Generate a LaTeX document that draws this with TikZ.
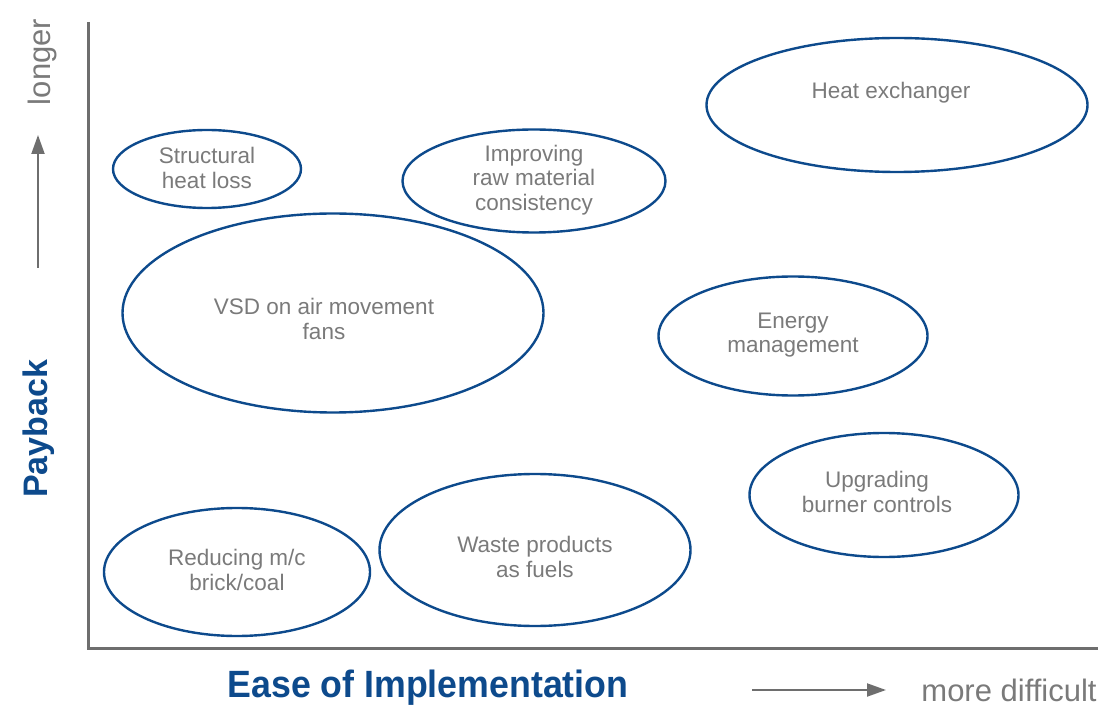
\documentclass[tikz,border=0pt]{standalone}
\usepackage{fontspec}
\setmainfont{Liberation Sans}
\usetikzlibrary{shapes.geometric,arrows.meta}
\definecolor{bblue}{HTML}{0D4A8C}
\definecolor{tgray}{HTML}{7A7A7A}
\definecolor{agray}{HTML}{6E6E6E}
\tikzset{
  bub/.style={draw=bblue, line width=2.4pt, ellipse, inner sep=0pt},
  btxt/.style={text=tgray, font=\fontsize{22.5}{24.5}\selectfont, align=center, inner sep=0pt},
  axis/.style={draw=agray, line width=3pt},
  garrow/.style={draw=agray, line width=2pt, -{Triangle[length=19pt,width=13pt]}},
  atitle/.style={text=bblue, font=\bfseries\fontsize{34}{38}\selectfont, inner sep=0pt},
  alabel/.style={text=tgray, font=\fontsize{31}{34}\selectfont, inner sep=0pt}
}
\begin{document}
\begin{tikzpicture}[x=1pt,y=-1pt]
\useasboundingbox (0,0) rectangle (1100,708);
% axes
\coordinate (top) at (88,22);
\coordinate (orig) at (88,648);
\coordinate (right) at (1098,648);
\draw[axis] (top) -- (orig) -- (right);
% y-axis labels
\coordinate (ua) at (38,268);
\coordinate (ub) at (38,135);
\draw[garrow] (ua) -- (ub);
\node[alabel, rotate=90] (longer) at (42,62) {longer};
\node[atitle, rotate=90] (payback) at (39,429) {Payback};
% x-axis labels
\node[atitle, font=\bfseries\fontsize{38}{40}\selectfont] (ease) at (428,688) {\scalebox{0.94}[1]{Ease of Implementation}};
\coordinate (ra) at (752,690);
\coordinate (rb) at (886,690);
\draw[garrow] (ra) -- (rb);
\node[alabel] (more) at (1009,690) {more difficult};
% bubbles
\node[bub, minimum width=188pt, minimum height=78pt] (e1) at (207,169) {};
\node[btxt] (t1) at (207,168) {Structural\\heat loss};
\node[bub, minimum width=263pt, minimum height=103pt] (e2) at (534,181) {};
\node[btxt] (t2) at (534,180) {Improving\\raw material\\consistency};
\node[bub, minimum width=381pt, minimum height=134pt] (e3) at (897,105) {};
\node[btxt] (t3) at (891,93) {Heat exchanger};
\node[bub, minimum width=421pt, minimum height=199pt] (e4) at (333,313) {};
\node[btxt] (t4) at (324,319) {VSD on air movement\\fans};
\node[bub, minimum width=269pt, minimum height=119pt] (e5) at (793,336) {};
\node[btxt] (t5) at (793,335) {Energy\\management};
\node[bub, minimum width=269pt, minimum height=124pt] (e6) at (884,495) {};
\node[btxt] (t6) at (877,492) {Upgrading\\burner controls};
\node[bub, minimum width=266pt, minimum height=128pt] (e7) at (237,572) {};
\node[btxt] (t7) at (237,570) {Reducing m/c\\brick/coal};
\node[bub, minimum width=311pt, minimum height=152pt] (e8) at (535,550) {};
\node[btxt] (t8) at (535,557) {Waste products\\as fuels};
\end{tikzpicture}
\end{document}
